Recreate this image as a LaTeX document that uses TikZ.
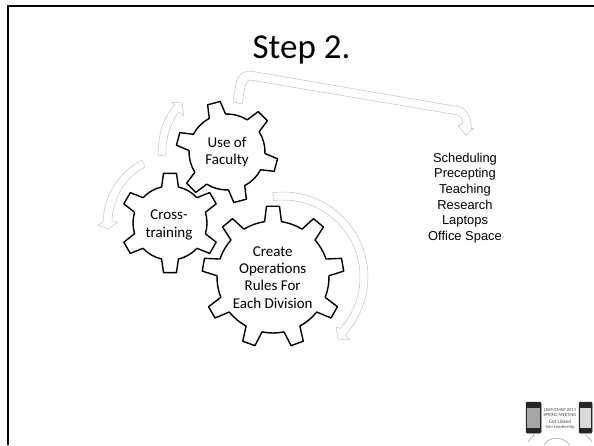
\documentclass[tikz,border=0pt]{standalone}
\usepackage{fontspec}
\setmainfont{Carlito}
\newfontfamily\listfont{Liberation Sans}
\usetikzlibrary{
    positioning
}
\tikzset{
    gearline/.style={
        draw=black,
        line width=1.4pt,
        line join=round
    },
    geartext/.style={
        align=center,
        inner sep=0pt,
        font=\fontsize{15}{17.2}\selectfont
    },
    blockarrow/.style={
        draw=black!24,
        line width=0.5pt,
        line join=round
    },
    phonebody/.style={
        draw=black!85,
        fill=black!85,
        line width=0.5pt,
        rounded corners=1pt,
        inner sep=0pt
    },
    phonescreen/.style={
        fill=black!35,
        inner sep=0pt,
        minimum height=20pt
    },
    logotext/.style={
        inner sep=0pt,
        text=black!70,
        font=\fontsize{4.6}{5}\selectfont
    },
    cable/.style={
        draw=black!35,
        line width=0.6pt
    }
}
% hub, outer radius, root radius, teeth, angle of first tooth
\newcommand{\drawgear}[5]{
    \pgfmathsetmacro{\tipang}{6.5/#2*57.3}
    \pgfmathsetmacro{\baseang}{8.5/#3*57.3}
    \pgfmathsetmacro{\gapang}{360/#4-2*\baseang}
    \draw [gearline, shift={(#1)}] ({#5+\baseang}:#3pt)
        foreach \tooth [evaluate=\tooth as \toothang using #5-\tooth*360/#4] in {1,...,#4} {
            -- ({\toothang+360/#4+\baseang}:#3pt)
            -- ({\toothang+360/#4+\tipang}:#2pt)
            -- ({\toothang+360/#4-\tipang}:#2pt)
            -- ({\toothang+360/#4-\baseang}:#3pt)
            arc [start angle={\toothang+360/#4-\baseang}, delta angle=-\gapang, radius=#3pt]
        } -- cycle;
}
\begin{document}
\begin{tikzpicture}[x=1pt,y=1pt]
        \useasboundingbox (0,0) rectangle (594,445);

        % Slide frame
        \draw [line width=2.4pt] (8,0) -- (8,439) -- (594,439);

        % Title
        \node [font=\fontsize{35}{40}\selectfont, anchor=base, inner sep=0pt] (title) at (301.5,386) {Step 2.};

        % Gears
        \coordinate (facultyhub) at (227,293);
        \coordinate (crosshub) at (170,222);
        \coordinate (createhub) at (273,168);
        \drawgear{facultyhub}{51}{38}{6}{105}
        \drawgear{crosshub}{50}{37}{6}{90}
        \drawgear{createhub}{71}{56}{9}{90}

        % Gear labels
        \node [geartext] (faculty) at (facultyhub) {Use of\\Faculty};
        \node [geartext] (cross) at (169,220) {Cross-\\training};
        \node [geartext] (create) at (272.7,167.5) {Create\\Operations\\Rules For\\Each Division};

        % Arrow round the big gear
        \coordinate (createarc) at (283,168);
        \draw [blockarrow, shift={(createarc)}] (97:85pt)
            arc [start angle=97, end angle=-43, radius=85pt]
            -- (67,-63) -- (55,-62) -- (53,-50) -- (-42:77pt)
            arc [start angle=-42, end angle=97, radius=77pt] -- cycle;

        % Arrow down to the left
        \draw [blockarrow] (142,285) .. controls (118,272) and (104,250) .. (103,223)
            -- (98,220) -- (108,216) -- (118,223) -- (112,223)
            .. controls (113,248) and (125,267) .. (145,278) -- cycle;

        % Arrow up between the gears
        \draw [blockarrow] (158,289) .. controls (158,310) and (163,328) .. (175,340)
            -- (171,343) -- (182,342) -- (184,329) -- (179,333)
            .. controls (172,325) and (165,308) .. (166,290) -- cycle;

        % Long arrow to the list
        \draw [blockarrow] (233,343) -- (236,362) .. controls (238,370) and (243,374) .. (250,374)
            -- (460,338) .. controls (467,336) and (472,326) .. (471,316)
            -- (474,317) -- (466,310) -- (458,319) -- (463,322)
            .. controls (463,326) and (461,329) .. (458,330)
            -- (250,365) .. controls (248,365) and (246,362) .. (245,358) -- (242,341) -- cycle;

        % List
        \node [font=\listfont\fontsize{12.9}{15.7}\selectfont, align=center, anchor=north, inner sep=0pt] (list) at (465,292.5) {Scheduling\\Precepting\\Teaching\\Research\\Laptops\\Office Space};

        % Logo
        \node [phonebody, minimum width=15pt, minimum height=31pt] (leftphone) at (533.5,27.5) {};
        \node [phonebody, minimum width=13pt, minimum height=31pt] (rightphone) at (585.5,27.5) {};
        \node [phonescreen, minimum width=13pt] (leftscreen) at (leftphone) {};
        \node [phonescreen, minimum width=11pt, fill=black!15] (rightscreen) at (rightphone) {};
        \node [logotext] (logoa) at (560,35) {LEAP/EMAP 2011};
        \node [logotext, below=1pt of logoa] (logob) {SPRING MEETING};
        \node [logotext, font=\fontsize{5.2}{6}\selectfont, below=3pt of logob] (logoc) {Get Linked};
        \node [logotext, below=1.4pt of logoc] (logod) {Into Leadership};
        \coordinate (leftend) at (528,3);
        \coordinate (midleft) at (544,0);
        \coordinate (midright) at (570,0);
        \coordinate (rightend) at (592,3);
        \draw [cable] (leftphone.south) .. controls (535,8) and (530,8) .. (leftend);
        \draw [cable] (midleft) .. controls (549,9) and (563,9) .. (midright);
        \draw [cable] (rightphone.south) .. controls (585,8) and (590,8) .. (rightend);
    \end{tikzpicture}
\end{document}
